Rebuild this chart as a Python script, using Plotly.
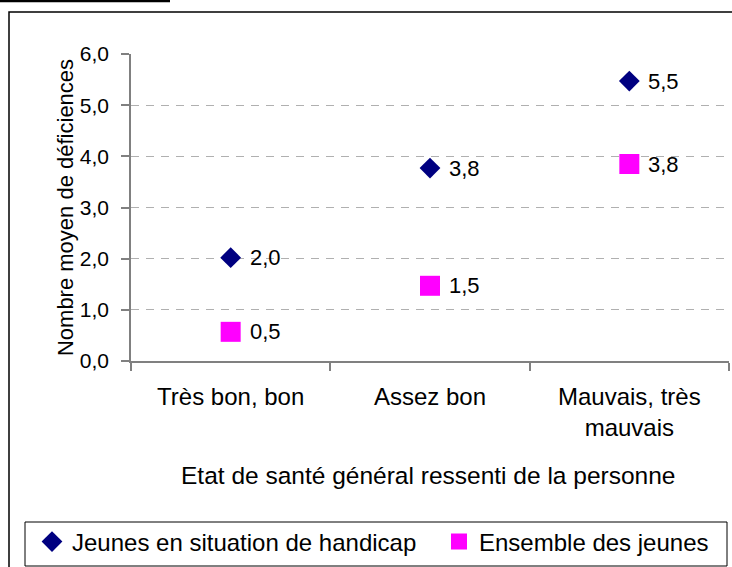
import plotly.graph_objects as go

categories = ["Très bon, bon", "Assez bon", "Mauvais, très<br>mauvais"]
handicap_values = [2.02, 3.77, 5.47]
handicap_labels = ["2,0", "3,8", "5,5"]
ensemble_values = [0.57, 1.47, 3.85]
ensemble_labels = ["0,5", "1,5", "3,8"]
series_names = ["Jeunes en situation de handicap", "Ensemble des jeunes"]
y_title = "Nombre moyen de déficiences"
x_title = "Etat de santé général ressenti de la personne"

FONT = "Liberation Sans, Arial, sans-serif"
W, H = 732, 567
L, R, T, B = 131, 3, 54, 206
PW, PH = W - L - R, H - T - B

def px(xp):
    return (xp - L) / PW

def py(yp):
    return (H - B - yp) / PH

fig = go.Figure()
fig.add_trace(go.Scatter(
    x=categories, y=handicap_values, mode="markers", name=series_names[0],
    marker=dict(symbol="diamond", size=16, color="#000080"), legend="legend",
))
fig.add_trace(go.Scatter(
    x=categories, y=ensemble_values, mode="markers", name=series_names[1],
    marker=dict(symbol="square", size=20, color="#FF00FF"), legend="legend2",
))

annotations = []
for vals, labs in ((handicap_values, handicap_labels), (ensemble_values, ensemble_labels)):
    for c, v, t in zip(categories, vals, labs):
        annotations.append(dict(x=c, y=v, xref="x", yref="y", text=t, showarrow=False,
                                xanchor="left", yanchor="middle", xshift=17,
                                font=dict(family=FONT, size=22, color="black")))
annotations.append(dict(x=px(428), y=py(475), xref="paper", yref="paper", text=x_title,
                        showarrow=False, xanchor="center", yanchor="middle",
                        font=dict(family=FONT, size=24.5, color="black")))

shapes = [
    dict(type="rect", xref="paper", yref="paper", x0=px(9), x1=px(740), y0=py(12), y1=py(575),
         line=dict(color="black", width=1.5), fillcolor="rgba(0,0,0,0)", layer="below"),
    dict(type="rect", xref="paper", yref="paper", x0=px(25), x1=px(727), y0=py(522), y1=py(566),
         line=dict(color="black", width=1), fillcolor="rgba(0,0,0,0)", layer="below"),
    dict(type="line", xref="paper", yref="paper", x0=px(0), x1=px(170), y0=py(1), y1=py(1),
         line=dict(color="black", width=2.5)),
]

leg_common = dict(orientation="h", yanchor="middle", xanchor="left",
                  font=dict(family=FONT, size=24, color="black"),
                  bgcolor="rgba(0,0,0,0)", borderwidth=0)

fig.update_layout(
    width=W, height=H,
    margin=dict(l=L, r=R, t=T, b=B, pad=0),
    paper_bgcolor="white", plot_bgcolor="white",
    separators=", ",
    font=dict(family=FONT, size=20, color="black"),
    showlegend=True,
    legend=dict(x=px(32), y=py(542), **leg_common),
    legend2=dict(x=px(439), y=py(542), **leg_common),
    annotations=annotations,
    shapes=shapes,
    xaxis=dict(type="category", tickson="boundaries", ticks="outside", ticklen=8,
               tickcolor="#808080", tickwidth=1.5,
               showline=True, linecolor="#808080", linewidth=1.5,
               showgrid=False, zeroline=False,
               tickfont=dict(family=FONT, size=24, color="black"),
               ticklabelstandoff=13, range=[-0.5, 2.5]),
    yaxis=dict(range=[0, 6], dtick=1, tick0=0, tickformat=".1f",
               ticks="outside", ticklen=8, tickcolor="#808080", tickwidth=1.5,
               showline=True, linecolor="#808080", linewidth=1.5,
               showgrid=True, gridcolor="#b0b0b0", gridwidth=1, griddash="8px,7px",
               zeroline=False,
               tickfont=dict(family=FONT, size=21, color="black"),
               ticklabelstandoff=8,
               title=dict(text=y_title, font=dict(family=FONT, size=22, color="black"),
                          standoff=0)),
)

fig.write_html(
    "out.html",
    config={"displayModeBar": False},
    post_script="document.documentElement.style.margin='0';document.body.style.margin='0';"
                "document.body.style.overflow='hidden';",
)
